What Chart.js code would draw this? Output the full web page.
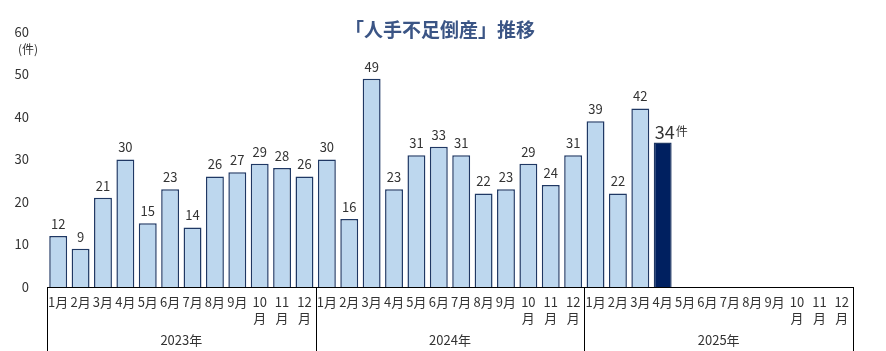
<!DOCTYPE html>
<html>
<head>
<meta charset="utf-8">
<script src="https://cdn.jsdelivr.net/npm/chart.js@4"></script>
<style>
  html, body { margin: 0; padding: 0; background: #fff; }
  #wrap { width: 886px; height: 351px; }
</style>
</head>
<body>
<div id="wrap"><canvas id="chart" width="886" height="351"></canvas></div>
<script>
// data
const months = ['1月', '2月', '3月', '4月', '5月', '6月', '7月', '8月', '9月', ['10', '月'], ['11', '月'], ['12', '月']];
const years = ['2023年', '2024年', '2025年'];
const values2023 = [12, 9, 21, 30, 15, 23, 14, 26, 27, 29, 28, 26];
const values2024 = [30, 16, 49, 23, 31, 33, 31, 22, 23, 29, 24, 31];
const values2025 = [39, 22, 42, 34, null, null, null, null, null, null, null, null];
const yTicks = [0, 10, 20, 30, 40, 50, 60];
const latestIndex = 27; // 2025年4月

const FONT = '"Noto Sans CJK JP", "Noto Sans", sans-serif';
const TEXT = '#333333';
const BAR = '#BDD7EE';
const BAR_EDGE = '#1F3864';
const BAR_LATEST = '#002060';

const labels = years.flatMap(() => months);
const values = [...values2023, ...values2024, ...values2025];

// title, unit, data labels, year row + separators
const extras = {
  id: 'extras',
  afterDraw(chart) {
    const ctx = chart.ctx;
    const x = chart.scales.x;
    const meta = chart.getDatasetMeta(0);
    ctx.save();

    // title
    ctx.fillStyle = '#3B5585';
    ctx.font = 'bold 19px ' + FONT;
    ctx.textAlign = 'center';
    ctx.textBaseline = 'middle';
    ctx.fillText('「人手不足倒産」推移', 440, 30);

    // unit under the 60 tick
    ctx.fillStyle = TEXT;
    ctx.font = '12px ' + FONT;
    ctx.fillText('(件)', 28, 49);

    // value labels
    meta.data.forEach((bar, i) => {
      const v = values[i];
      if (v == null) return;
      if (i === latestIndex) {
        ctx.textAlign = 'left';
        ctx.font = '18px ' + FONT;
        ctx.fillText(String(v), bar.x - 8, bar.y - 10);
        const w = ctx.measureText(String(v)).width;
        ctx.font = '12px ' + FONT;
        ctx.fillText('件', bar.x - 8 + w + 1, bar.y - 11);
      } else {
        ctx.textAlign = 'center';
        ctx.font = '13px ' + FONT;
        ctx.fillText(String(v), bar.x, bar.y - 12);
      }
    });

    // year separators and labels
    ctx.strokeStyle = '#000';
    ctx.lineWidth = 1;
    const bottom = chart.height;
    const bounds = [x.left];
    for (let g = 1; g < years.length; g++) {
      const i = g * months.length;
      bounds.push((x.getPixelForValue(i - 1) + x.getPixelForValue(i)) / 2);
    }
    bounds.push(x.right);
    bounds.forEach(b => {
      const px = Math.round(b) + 0.5;
      ctx.beginPath();
      ctx.moveTo(px, x.top);
      ctx.lineTo(px, bottom);
      ctx.stroke();
    });
    ctx.fillStyle = TEXT;
    ctx.font = '13px ' + FONT;
    ctx.textAlign = 'center';
    years.forEach((y, g) => {
      ctx.fillText(y, (bounds[g] + bounds[g + 1]) / 2, 340);
    });

    ctx.restore();
  }
};

new Chart(document.getElementById('chart'), {
  type: 'bar',
  data: {
    labels: labels,
    datasets: [{
      data: values,
      backgroundColor: values.map((v, i) => i === latestIndex ? BAR_LATEST : BAR),
      borderColor: BAR_EDGE,
      borderWidth: 1.5,
      borderSkipped: 'bottom',
      categoryPercentage: 1,
      barPercentage: 0.8
    }]
  },
  options: {
    responsive: false,
    animation: false,
    layout: { padding: { top: 32, right: 33, bottom: 0, left: 0 } },
    plugins: {
      legend: { display: false },
      title: { display: false },
      tooltip: { enabled: false }
    },
    scales: {
      x: {
        grid: { display: true, drawOnChartArea: false, drawTicks: false },
        border: { display: true, color: '#000', width: 1 },
        ticks: {
          autoSkip: false,
          maxRotation: 0,
          minRotation: 0,
          padding: 7,
          color: TEXT,
          font: { family: FONT, size: 13, lineHeight: 1.23 }
        },
        afterFit(scale) { scale.height = 64; }
      },
      y: {
        min: 0,
        max: 60,
        grid: { display: false },
        border: { display: false },
        afterBuildTicks(scale) { scale.ticks = yTicks.map(v => ({ value: v })); },
        ticks: {
          padding: 10,
          color: TEXT,
          font: { family: FONT, size: 13 }
        },
        afterFit(scale) { scale.width = 47; }
      }
    }
  },
  plugins: [extras]
});
</script>
</body>
</html>
